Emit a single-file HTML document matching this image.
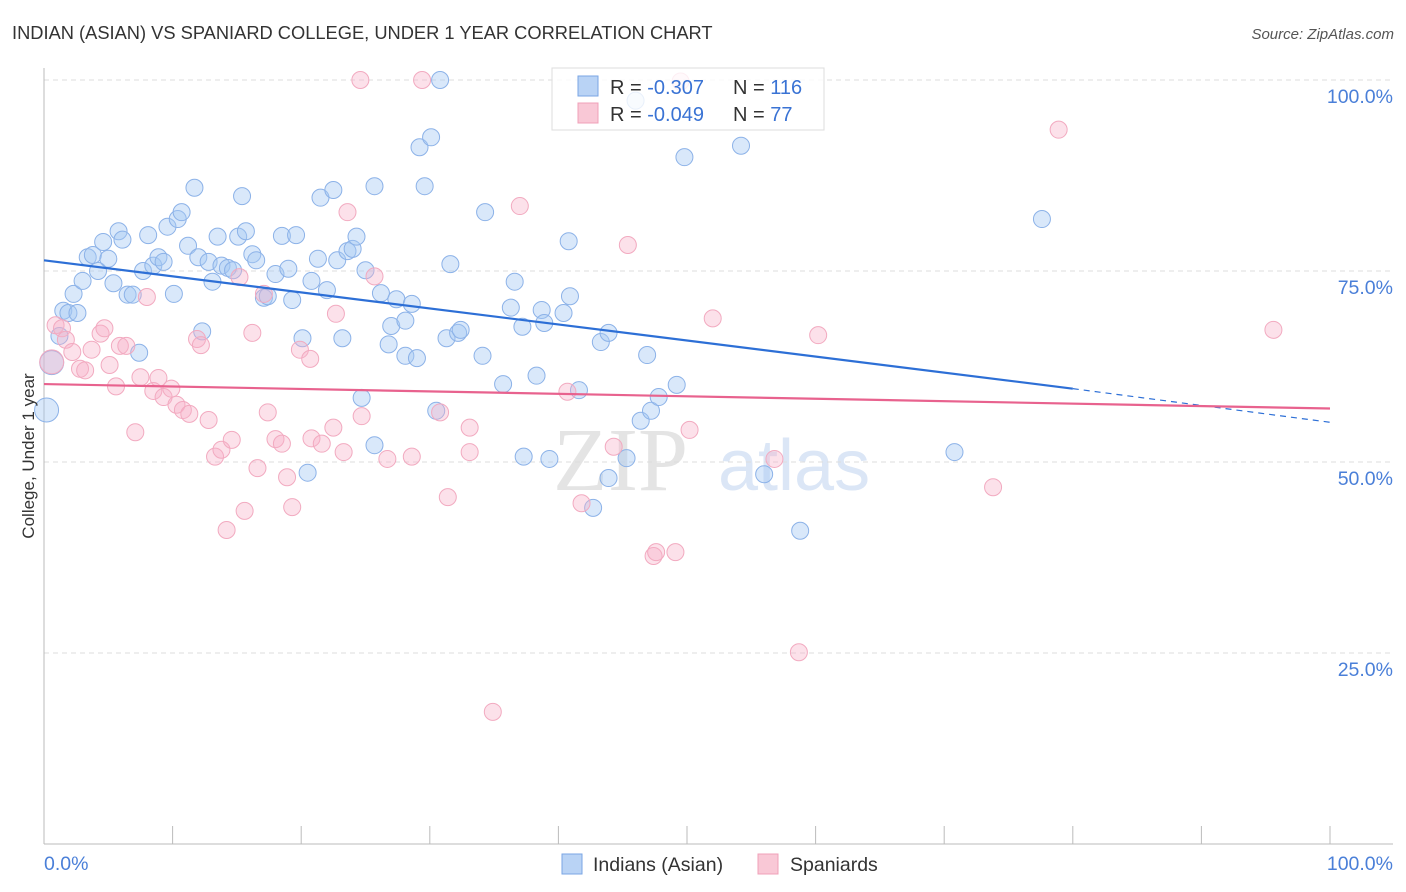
<!DOCTYPE html>
<html><head><meta charset="utf-8"><style>
body{margin:0;background:#fff;font-family:"Liberation Sans",sans-serif;}
svg{display:block}
</style></head><body>
<svg width="1406" height="892" xmlns="http://www.w3.org/2000/svg">
<text x="12" y="39" font-size="18.3" fill="#333">INDIAN (ASIAN) VS SPANIARD COLLEGE, UNDER 1 YEAR CORRELATION CHART</text>
<text x="1394" y="39" font-size="15" fill="#555" font-style="italic" text-anchor="end">Source: ZipAtlas.com</text>
<g><text x="553" y="490" font-size="90" fill="#e4e4e4" font-family="Liberation Serif,serif">ZIP</text><text x="718" y="490" font-size="72" fill="#dbe6f6">atlas</text></g>
<g id="grid"></g>
<g id="axes"></g>
<g id="pts"></g>
<g id="lines"></g>
<text transform="translate(34,456) rotate(-90)" font-size="17" fill="#333" text-anchor="middle">College, Under 1 year</text>
<g>
<rect x="552" y="68" width="272" height="62" fill="rgba(255,255,255,0.8)" stroke="#ddd"/>
<rect x="578" y="76" width="20" height="20" fill="#b9d3f5" stroke="#7aa6e4"/>
<rect x="578" y="103" width="20" height="20" fill="#f9c8d6" stroke="#f0a0b8"/>
<text x="610" y="94" font-size="20" fill="#333">R = <tspan fill="#3a73d4">-0.307</tspan></text>
<text x="733" y="94" font-size="20" fill="#333">N = <tspan fill="#3a73d4">116</tspan></text>
<text x="610" y="121" font-size="20" fill="#333">R = <tspan fill="#3a73d4">-0.049</tspan></text>
<text x="733" y="121" font-size="20" fill="#333">N = <tspan fill="#3a73d4"> 77</tspan></text>
</g>
<g>
<rect x="562" y="854" width="20" height="20" fill="#b9d3f5" stroke="#7aa6e4"/>
<text x="593" y="871" font-size="19.5" fill="#333">Indians (Asian)</text>
<rect x="758" y="854" width="20" height="20" fill="#f9c8d6" stroke="#f0a0b8"/>
<text x="790" y="871" font-size="19.5" fill="#333">Spaniards</text>
</g>
</svg>
<script>
const yTicks=[25,50,75,100];
const yTickLabels=["25.0%","50.0%","75.0%","100.0%"];
const xTicks=[0,10,20,30,40,50,60,70,80,90,100];
const blueX=[0.2,0.6,1.2,1.5,1.9,2.3,2.6,3.0,3.4,3.8,4.2,4.6,5.0,5.4,5.8,6.1,6.5,6.9,7.4,7.7,8.1,8.5,8.9,9.3,9.6,10.1,10.4,10.7,11.2,11.7,12.0,12.3,12.8,13.1,13.5,13.8,14.3,14.7,15.1,15.4,15.7,16.2,16.5,17.1,17.4,18.0,18.5,19.0,19.3,19.6,20.1,20.5,20.8,21.3,21.5,22.0,22.5,22.8,23.2,23.6,24.0,24.3,24.7,25.0,25.7,25.7,26.2,26.8,27.0,27.4,28.1,28.1,28.6,29.0,29.2,29.6,30.1,30.5,30.8,31.3,31.6,32.2,32.4,34.1,34.3,35.7,36.3,36.6,37.2,37.3,38.3,38.7,38.9,39.3,40.4,40.8,40.9,41.6,42.7,43.3,43.9,43.9,45.3,46.0,46.4,46.9,47.2,47.8,49.2,49.8,54.2,56.0,58.8,70.8,77.6];
const blueY=[56.8,63.0,66.5,69.8,69.5,72.0,69.5,73.7,76.8,77.1,75.0,78.8,76.6,73.4,80.2,79.1,71.9,71.9,64.3,75.0,79.7,75.7,76.8,76.2,80.8,72.0,81.8,82.7,78.3,85.9,76.8,67.1,76.2,73.6,79.5,75.7,75.4,75.1,79.5,84.8,80.2,77.2,76.4,71.5,71.7,74.6,79.6,75.3,71.2,79.7,66.2,48.6,73.7,76.6,84.6,72.5,85.6,76.4,66.2,77.6,77.9,79.5,58.4,75.1,86.1,52.2,72.1,65.4,67.8,71.3,68.5,63.9,70.7,63.6,91.2,86.1,92.5,56.7,100,66.2,75.9,66.9,67.3,63.9,82.7,60.2,70.2,73.6,67.7,50.7,61.3,69.9,68.2,50.4,69.5,78.9,71.7,59.4,44.0,65.7,47.9,66.9,50.5,97.3,55.4,64.0,56.7,58.5,60.1,89.9,91.4,48.4,41.0,51.3,81.8];
const pinkX=[0.6,0.9,1.4,1.7,2.2,2.8,3.2,3.7,4.4,4.7,5.1,5.6,5.9,6.4,7.1,7.5,8.0,8.5,8.9,9.3,9.9,10.3,10.8,11.3,11.9,12.2,12.8,13.3,13.8,14.2,14.6,15.2,15.6,16.2,16.6,17.1,17.4,18.0,18.5,18.9,19.3,19.9,20.7,20.8,21.6,22.5,22.7,23.3,23.6,24.6,24.7,25.7,26.7,28.6,29.4,30.8,31.4,33.1,33.1,34.9,37.0,40.7,41.8,44.3,45.4,47.4,47.6,49.1,49.5,50.2,52.0,56.8,58.7,60.2,73.8,78.9,95.6];
const pinkY=[63.1,67.9,67.5,66.0,64.4,62.2,62.0,64.7,66.8,67.5,62.7,59.9,65.2,65.2,53.9,61.1,71.6,59.3,61.0,58.5,59.6,57.5,56.8,56.3,66.1,65.3,55.5,50.7,51.6,41.1,52.9,74.2,43.6,66.9,49.2,72.0,56.5,53.0,52.4,48.0,44.1,64.7,63.5,53.1,52.4,54.5,69.4,51.3,82.7,100,56.0,74.3,50.4,50.7,100,56.5,45.4,54.5,51.3,17.3,83.5,59.2,44.6,52.0,78.4,37.7,38.2,38.2,99.8,54.2,68.8,50.4,25.1,66.6,46.7,93.5,67.3];
const blueBig=[0,1];const pinkBig=[0];
const blueTrend=[76.4,59.6,55.2]; // at x=0, 80, 100
const pinkTrend=[60.2,57.0]; // at x=0, 100
const X0=44,X1=1330,Y0=844,Y1=80;
const sx=v=>X0+(X1-X0)*v/100, sy=v=>Y0-(Y0-Y1)*v/100;
const NS="http://www.w3.org/2000/svg";
function mk(t,a,p){const e=document.createElementNS(NS,t);for(const k in a)e.setAttribute(k,a[k]);p.appendChild(e);return e;}
const grid=document.getElementById('grid'),axes=document.getElementById('axes'),pts=document.getElementById('pts'),lines=document.getElementById('lines');
yTicks.forEach((t,i)=>{
 const g=mk('line',{x1:X0,x2:1393,y1:sy(t),y2:sy(t),stroke:'#ddd','stroke-dasharray':'5,4'},grid);
 
 
 const tx=mk('text',{x:1393,y:sy(t)+23,'font-size':19.5,fill:'#4a7fd8','text-anchor':'end'},axes);
 tx.textContent=yTickLabels[i];
 
 
});
mk('line',{x1:X0,x2:X0,y1:68,y2:Y0,stroke:'#bbb'},axes);
mk('line',{x1:X0,x2:1393,y1:Y0,y2:Y0,stroke:'#bbb'},axes);
xTicks.forEach(t=>{const l=mk('line',{x1:sx(t),x2:sx(t),y1:826,y2:Y0,stroke:'#bbb'},axes);
 
 });
const xl=mk('text',{x:44,y:870,'font-size':19.5,fill:'#4a7fd8'},axes);xl.textContent='0.0%';


const xr=mk('text',{x:1393,y:870,'font-size':19.5,fill:'#4a7fd8','text-anchor':'end'},axes);xr.textContent='100.0%';


function dots(X,Y,big,fill,stroke,name){X.forEach((x,i)=>{const c=mk('circle',{cx:sx(x),cy:sy(Y[i]),r:big.includes(i)?12:8.5,fill:fill,stroke:stroke,'stroke-width':1},pts);
 
 });}
dots(blueX,blueY,blueBig,'rgba(165,199,242,0.42)','#8cb2e8','point-indian');
dots(pinkX,pinkY,pinkBig,'rgba(247,176,200,0.38)','#f2aac0','point-spaniard');
const b1=mk('line',{x1:sx(0),y1:sy(blueTrend[0]),x2:sx(80),y2:sy(blueTrend[1]),stroke:'#2d6fd6','stroke-width':2.2},lines);


const b2=mk('line',{x1:sx(80),y1:sy(blueTrend[1]),x2:sx(100),y2:sy(blueTrend[2]),stroke:'#2d6fd6','stroke-width':1.2,'stroke-dasharray':'6,5'},lines);


const p1=mk('line',{x1:sx(0),y1:sy(pinkTrend[0]),x2:sx(100),y2:sy(pinkTrend[1]),stroke:'#e8628e','stroke-width':2.2},lines);


</script>
</body></html>
